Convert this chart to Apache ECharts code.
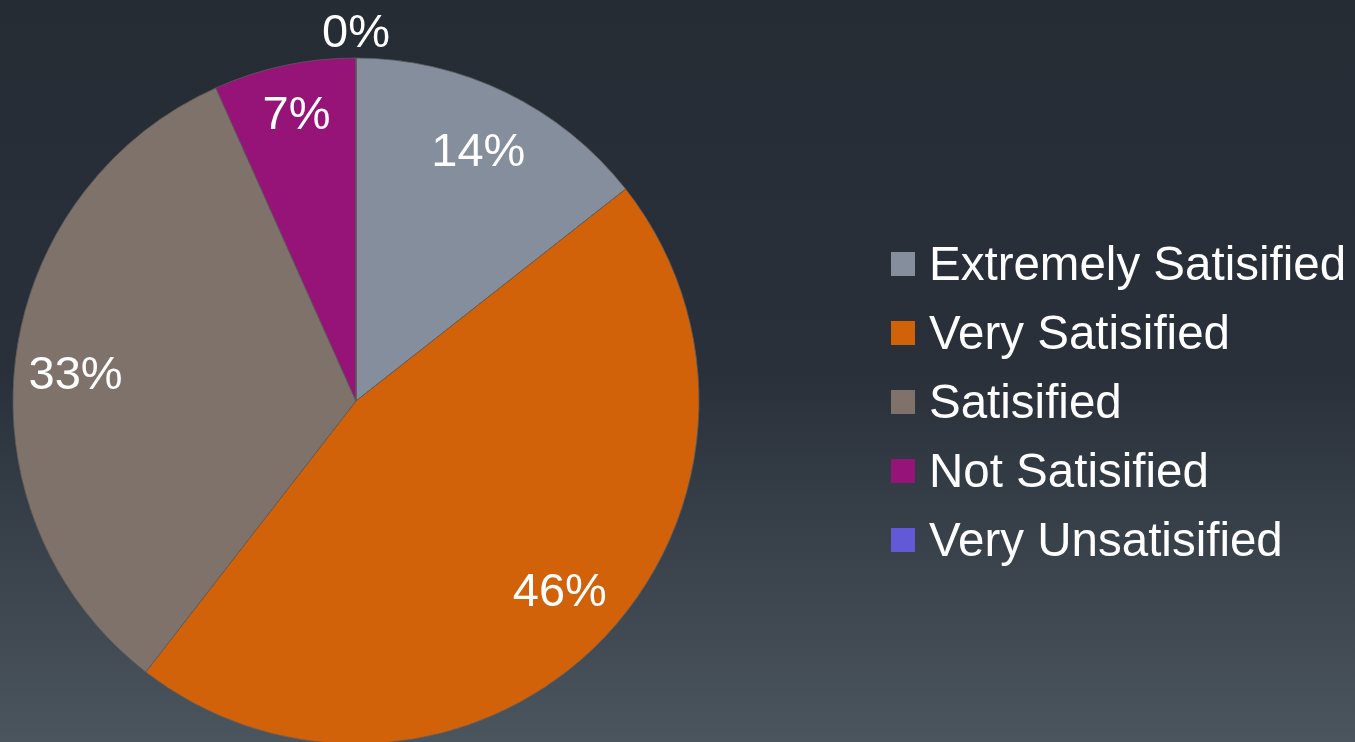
<!DOCTYPE html>
<html>
<head>
<meta charset="utf-8">
<style>
  html, body { margin: 0; padding: 0; }
  #chart { width: 1355px; height: 742px; }
</style>
<script src="https://cdn.jsdelivr.net/npm/echarts@6/dist/echarts.min.js"></script>
</head>
<body>
<div id="chart"></div>
<script>
const categories = ['Extremely Satisified', 'Very Satisified', 'Satisified', 'Not Satisified', 'Very Unsatisified']
const values = [14.4, 46.1, 32.8, 6.7, 0]
const colors = ['#848e9c', '#d2620a', '#7f726b', '#961478', '#6159d6']

const chart = echarts.init(document.getElementById('chart'))

const pieData = categories.map((name, i) => ({ name: name, value: values[i] }))

// small nudges so the percentage labels land where the original put them
const labelNudge = [[-2, 8], [2, -8], [2, 9], [0, -7], [0, -82]]

// label ring: same slices, transparent, so labels sit at ~0.82 of the radius
const labelData = categories.map((name, i) => ({
    name: name,
    value: values[i],
    label: { offset: labelNudge[i] }
}))

const option = {
    backgroundColor: new echarts.graphic.LinearGradient(0, 0, 0, 1, [
        { offset: 0, color: '#252c34' },
        { offset: 0.5, color: '#29303a' },
        { offset: 1, color: '#4b555e' }
    ]),
    color: colors,
    legend: {
        orient: 'vertical',
        left: 891,
        top: 237,
        padding: 0,
        itemWidth: 24,
        itemHeight: 24,
        itemGap: 15,
        icon: 'rect',
        itemStyle: { borderWidth: 0 },
        data: categories,
        formatter: '{t|{name}}',
        textStyle: {
            color: '#ffffff',
            fontSize: 47.5,
            lineHeight: 48,
            fontFamily: 'Liberation Sans, Arial, sans-serif',
            padding: [0, 0, 0, 9],
            rich: {
                t: {
                    color: '#ffffff',
                    fontSize: 47.5,
                    lineHeight: 48,
                    fontFamily: 'Liberation Sans, Arial, sans-serif',
                    padding: [6, 0, 0, 0]
                }
            }
        }
    },
    series: [
        {
            name: 'pie',
            type: 'pie',
            center: [356, 401],
            radius: [0, 343],
            startAngle: 90,
            clockwise: true,
            avoidLabelOverlap: false,
            silent: true,
            label: { show: false },
            labelLine: { show: false },
            itemStyle: {
                borderColor: '#5c5c5c',
                borderWidth: 0.8
            },
            data: pieData
        },
        {
            name: 'labels',
            type: 'pie',
            center: [356, 401],
            radius: [220, 343],
            startAngle: 90,
            clockwise: true,
            avoidLabelOverlap: false,
            silent: true,
            legendHoverLink: false,
            itemStyle: { color: 'rgba(0,0,0,0)', borderWidth: 0 },
            label: {
                show: true,
                position: 'inside',
                color: '#ffffff',
                fontSize: 47,
                fontFamily: 'Liberation Sans, Arial, sans-serif',
                formatter: function (p) {
                    return Math.round(p.value) + '%'
                }
            },
            labelLine: { show: false },
            data: labelData
        }
    ]
}

chart.setOption(option)
</script>
</body>
</html>
